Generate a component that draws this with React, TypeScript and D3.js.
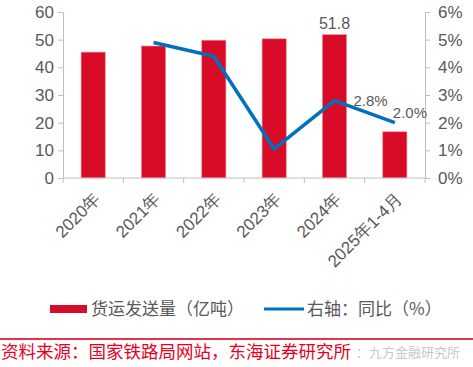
import { useEffect, useRef } from 'react';
import * as d3 from 'd3';

const categories = ['2020年', '2021年', '2022年', '2023年', '2024年', '2025年1-4月'];
const volume = [45.5, 47.7, 49.8, 50.3, 51.8, 16.7];
const yoy = [null, 4.9, 4.4, 1.05, 2.8, 2.0];
const leftTicks = [0, 10, 20, 30, 40, 50, 60];
const rightTicks = [0, 1, 2, 3, 4, 5, 6];
const barLabels = [{ i: 4, text: '51.8' }];
const lineLabels = [{ i: 4, text: '2.8%' }, { i: 5, text: '2.0%' }];
const legendBar = '货运发送量（亿吨）';
const legendLine = '右轴：同比（%）';
const source = '资料来源：国家铁路局网站，东海证券研究所';
const watermark = '：九方金融研究所';

const W = 473;
const H = 367;
const NUM_FONT = '"Liberation Sans", Arial, sans-serif';
const CJK_FONT = '"Noto Sans CJK SC", "Noto Sans", sans-serif';
const GRAY = '#595959';
const AXIS = '#bfbfbf';
const RED = '#d80c26';
const BLUE = '#0070c0';

export default function App() {
  const svgRef = useRef<SVGSVGElement>(null);

  useEffect(() => {
    if (!svgRef.current) return;
    const margin = { top: 12, right: 48, bottom: 189, left: 63 };
    const innerW = W - margin.left - margin.right;
    const innerH = H - margin.top - margin.bottom;

    const x = d3.scaleBand<string>().domain(categories).range([0, innerW]).padding(0);
    const y = d3.scaleLinear().domain([0, 60]).range([innerH, 0]);
    const y2 = d3.scaleLinear().domain([0, 6]).range([innerH, 0]);
    const barW = x.bandwidth() * 0.4;

    const svg = d3.select(svgRef.current);
    svg.selectAll('*').remove();
    const g = svg.append('g').attr('transform', `translate(${margin.left},${margin.top})`);

    // bars
    g.selectAll('rect.bar')
      .data(volume)
      .join('rect')
      .attr('class', 'bar')
      .attr('x', (_, i) => (x(categories[i]) as number) + (x.bandwidth() - barW) / 2)
      .attr('y', (d) => y(d))
      .attr('width', barW)
      .attr('height', (d) => innerH - y(d))
      .attr('fill', RED)
      .attr('stroke', '#f08a98')
      .attr('stroke-width', 0.6);

    // left axis
    g.append('g')
      .call(d3.axisLeft(y).tickValues(leftTicks).tickSize(5).tickPadding(4))
      .call((a) => {
        a.selectAll('.domain, line').attr('stroke', AXIS);
        a.selectAll('text').attr('fill', GRAY).attr('font-size', 17).attr('font-family', NUM_FONT);
      });

    // right axis
    g.append('g')
      .attr('transform', `translate(${innerW},0)`)
      .call(d3.axisRight(y2).tickValues(rightTicks).tickSize(5).tickPadding(8).tickFormat((d) => `${d}%`))
      .call((a) => {
        a.selectAll('.domain, line').attr('stroke', AXIS);
        a.selectAll('text').attr('fill', GRAY).attr('font-size', 17).attr('font-family', NUM_FONT);
      });

    // bottom axis
    const xb = g.append('g').attr('transform', `translate(0,${innerH})`);
    xb.append('line').attr('x1', 0).attr('x2', innerW).attr('stroke', AXIS);
    const edges = d3.range(categories.length + 1).map((i) => i * x.step());
    xb.selectAll('line.tick')
      .data(edges)
      .join('line')
      .attr('class', 'tick')
      .attr('x1', (d) => d).attr('x2', (d) => d)
      .attr('y1', 0).attr('y2', 5)
      .attr('stroke', AXIS);
    xb.selectAll('text')
      .data(categories)
      .join('text')
      .attr('transform', (d) => `translate(${(x(d) as number) + x.bandwidth() / 2 + 8},${22}) rotate(-45)`)
      .attr('text-anchor', 'end')
      .attr('fill', GRAY)
      .attr('font-size', 17)
      .attr('font-family', NUM_FONT)
      .text((d) => d);

    // line
    const pts = yoy
      .map((v, i) => ({ v, c: categories[i] }))
      .filter((p) => p.v !== null) as { v: number; c: string }[];
    const line = d3.line<{ v: number; c: string }>()
      .x((d) => (x(d.c) as number) + x.bandwidth() / 2)
      .y((d) => y2(d.v));
    g.append('path')
      .datum(pts)
      .attr('d', line)
      .attr('fill', 'none')
      .attr('stroke', BLUE)
      .attr('stroke-width', 3.5)
      .attr('stroke-linejoin', 'round');

    // labels
    barLabels.forEach((l) => {
      g.append('text')
        .attr('x', (x(categories[l.i]) as number) + x.bandwidth() / 2)
        .attr('y', y(volume[l.i]) - 6)
        .attr('text-anchor', 'middle')
        .attr('fill', GRAY)
        .attr('font-size', 16)
        .attr('font-family', NUM_FONT)
        .text(l.text);
    });
    const lineOffsets = [{ dx: 19, dy: 5 }, { dx: -2, dy: -5 }];
    lineLabels.forEach((l, k) => {
      g.append('text')
        .attr('x', (x(categories[l.i]) as number) + x.bandwidth() / 2 + lineOffsets[k].dx)
        .attr('y', y2(yoy[l.i] as number) + lineOffsets[k].dy)
        .attr('fill', GRAY)
        .attr('font-size', 15)
        .attr('font-family', NUM_FONT)
        .text(l.text);
    });

    // legend
    const lg = svg.append('g').attr('transform', 'translate(0,309)');
    lg.append('rect').attr('x', 50).attr('y', -4).attr('width', 37).attr('height', 8).attr('fill', RED);
    lg.append('text').attr('x', 91).attr('y', 6).attr('fill', GRAY).attr('font-size', 17)
      .attr('font-family', CJK_FONT).text(legendBar);
    lg.append('line').attr('x1', 264).attr('x2', 304).attr('stroke', BLUE).attr('stroke-width', 3);
    lg.append('text').attr('x', 307).attr('y', 6).attr('fill', GRAY).attr('font-size', 17)
      .attr('font-family', CJK_FONT).text(legendLine);

    // source
    svg.append('line').attr('x1', 0).attr('x2', W).attr('y1', 339).attr('y2', 339)
      .attr('stroke', '#e0354d').attr('stroke-width', 2);
    svg.append('text').attr('x', 356).attr('y', 357).attr('fill', '#c8c8c8').attr('font-size', 13)
      .attr('font-family', CJK_FONT).text(watermark);
    svg.append('text').attr('x', 1).attr('y', 358).attr('fill', '#e8001c').attr('font-size', 17.5)
      .attr('font-family', CJK_FONT).text(source);
  }, []);

  return (
    <div style={{ position: 'fixed', left: 0, top: 0 }}>
      <svg ref={svgRef} width={W} height={H} style={{ display: 'block', background: '#fff' }} />
    </div>
  );
}
